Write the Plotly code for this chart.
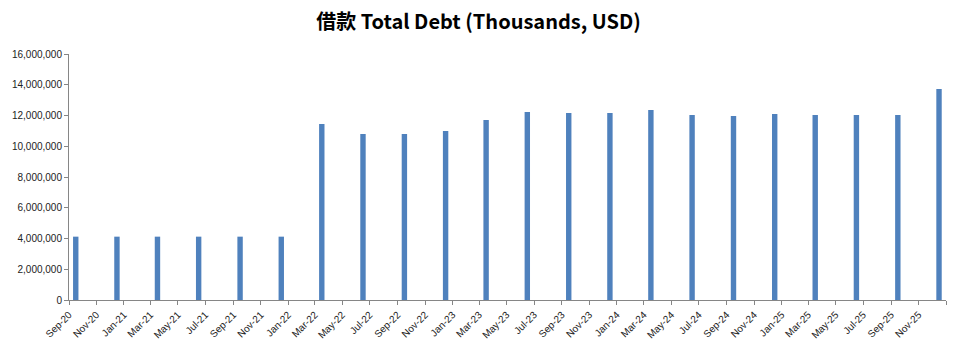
import plotly.graph_objects as go

quarters = ["2020-09-30", "2020-12-31", "2021-03-31", "2021-06-30", "2021-09-30", "2021-12-31",
            "2022-03-31", "2022-06-30", "2022-09-30", "2022-12-31", "2023-03-31", "2023-06-30",
            "2023-09-30", "2023-12-31", "2024-03-31", "2024-06-30", "2024-09-30", "2024-12-31",
            "2025-03-31", "2025-06-30", "2025-09-30", "2025-12-31"]
total_debt = [4120000, 4120000, 4120000, 4120000, 4120000, 4120000,
              11450000, 10800000, 10800000, 10990000, 11710000, 12230000,
              12160000, 12160000, 12360000, 12030000, 11970000, 12100000,
              12030000, 12030000, 12030000, 13720000]
y_ticks = [0, 2000000, 4000000, 6000000, 8000000, 10000000, 12000000, 14000000, 16000000]
x_tick_vals = ["2020-09-01", "2020-11-01", "2021-01-01", "2021-03-01", "2021-05-01", "2021-07-01",
               "2021-09-01", "2021-11-01", "2022-01-01", "2022-03-01", "2022-05-01", "2022-07-01",
               "2022-09-01", "2022-11-01", "2023-01-01", "2023-03-01", "2023-05-01", "2023-07-01",
               "2023-09-01", "2023-11-01", "2024-01-01", "2024-03-01", "2024-05-01", "2024-07-01",
               "2024-09-01", "2024-11-01", "2025-01-01", "2025-03-01", "2025-05-01", "2025-07-01",
               "2025-09-01", "2025-11-01", "2026-01-01"]
x_tick_text = ["Sep-20", "Nov-20", "Jan-21", "Mar-21", "May-21", "Jul-21",
               "Sep-21", "Nov-21", "Jan-22", "Mar-22", "May-22", "Jul-22",
               "Sep-22", "Nov-22", "Jan-23", "Mar-23", "May-23", "Jul-23",
               "Sep-23", "Nov-23", "Jan-24", "Mar-24", "May-24", "Jul-24",
               "Sep-24", "Nov-24", "Jan-25", "Mar-25", "May-25", "Jul-25",
               "Sep-25", "Nov-25", ""]

DAY_MS = 86400000

fig = go.Figure(go.Bar(
    x=quarters,
    y=total_debt,
    xperiod="M1",
    xperiodalignment="middle",
    width=12 * DAY_MS,
    marker=dict(color="#4F81BD", line=dict(width=0)),
))

axis_font = dict(family="Liberation Sans Narrow, Liberation Sans, Arial, sans-serif", size=10, color="#222222")

fig.update_layout(
    width=957,
    height=347,
    margin=dict(l=69, r=11, t=54, b=47),
    paper_bgcolor="white",
    plot_bgcolor="white",
    showlegend=False,
    title=dict(
        text="借款 Total Debt (Thousands, USD)",
        font=dict(family="Liberation Sans Narrow, Noto Sans CJK SC, sans-serif", size=20, color="#000000", weight="bold"),
        x=0.5, xref="container", xanchor="center",
        y=1 - 22 / 347, yref="container", yanchor="middle",
    ),
    xaxis=dict(
        type="date",
        range=["2020-09-01", "2026-01-01"],
        tickmode="array",
        tickvals=x_tick_vals,
        ticktext=x_tick_text,
        tickangle=-45,
        ticks="outside",
        ticklen=4,
        tickcolor="#868686",
        showline=True,
        linecolor="#868686",
        linewidth=1,
        showgrid=False,
        zeroline=False,
        automargin=False,
        tickfont=axis_font,
    ),
    yaxis=dict(
        range=[0, 16000000],
        tickvals=y_ticks,
        tickformat=",d",
        ticks="outside",
        ticklen=4,
        tickcolor="#868686",
        showline=True,
        linecolor="#868686",
        linewidth=1,
        showgrid=False,
        zeroline=False,
        automargin=False,
        tickfont=axis_font,
    ),
)

fig.write_html("out.html")
